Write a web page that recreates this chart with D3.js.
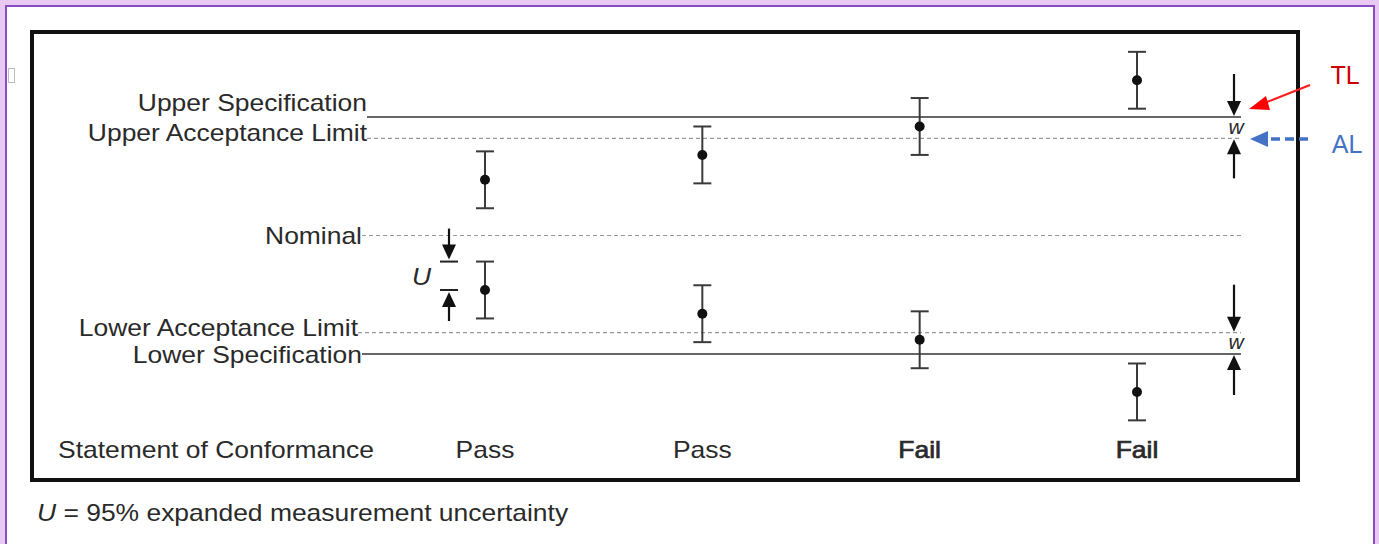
<!doctype html>
<html>
<head>
<meta charset="UTF-8">
<title>conformance</title>
<script src="https://d3js.org/d3.v7.min.js"></script>
<style>
  body { margin: 0; background: #e8c9f2; }
  text { font-family: "Liberation Sans", Arial, sans-serif; fill: #2a2a2a; }
</style>
</head>
<body>
<svg width="1379" height="544"></svg>
<script>
// measurement results, two per column (upper and lower)
var samples = ["s1", "s2", "s3", "s4"];
var upperResults = [4.7, 6.8, 9.2, 13.1];
var lowerResults = [-4.6, -6.6, -8.8, -13.2];
var uncertainty = 2.4;
var verdicts = ["Pass", "Pass", "Fail", "Fail"];

// limit lines
var limitLabels = ["Upper Specification", "Upper Acceptance Limit", "Nominal", "Lower Acceptance Limit", "Lower Specification"];
var limitValues = [10, 8.2, 0, -8.2, -10];

var W = 1379, H = 544;
var svg = d3.select("svg");
var stretch = 1.15; // source text is a bit wider than plain Arial

var x = d3.scalePoint().domain(samples).range([485, 1137]);
var y = d3.scaleLinear().domain([-10, 10]).range([354, 117]);

// page frame
svg.append("rect").attr("x", 6).attr("y", 6).attr("width", 1368).attr("height", 560)
   .attr("fill", "#fff").attr("stroke", "#8a4cc2").attr("stroke-width", 2);
svg.append("rect").attr("x", 8.5).attr("y", 68.5).attr("width", 6).attr("height", 14)
   .attr("fill", "none").attr("stroke", "#777").attr("stroke-dasharray", "1,1");
svg.append("rect").attr("x", 32).attr("y", 32).attr("width", 1266).attr("height", 448)
   .attr("fill", "none").attr("stroke", "#111").attr("stroke-width", 4);

function label(g, str, px, py, anchor) {
  return g.append("text")
    .attr("transform", "translate(" + px + "," + py + ") scale(" + stretch + ",1)")
    .attr("text-anchor", anchor || "start")
    .attr("font-size", 23)
    .text(str);
}

// limit lines + labels
var lineEnd = 1241;
var labelShift = [-6, 3, 8, 3, 9];
var labelEnd = [367, 367, 362, 358, 362];
limitValues.forEach(function (v, i) {
  var spec = limitLabels[i].indexOf("Specification") >= 0;
  svg.append("line")
    .attr("x1", labelEnd[i]).attr("x2", lineEnd)
    .attr("y1", y(v)).attr("y2", y(v))
    .attr("stroke", spec ? "#333" : "#999")
    .attr("stroke-width", spec ? 1.6 : 1.2)
    .attr("stroke-dasharray", spec ? null : "4,3");
  label(svg, limitLabels[i], labelEnd[i], y(v) + labelShift[i], "end");
});

// error bars
var pts = [];
samples.forEach(function (s, i) {
  pts.push({ s: s, v: upperResults[i] });
  pts.push({ s: s, v: lowerResults[i] });
});
var bars = svg.append("g").attr("stroke", "#3a3a3a").attr("stroke-width", 2);
pts.forEach(function (p) {
  var cx = x(p.s);
  bars.append("line").attr("x1", cx).attr("x2", cx)
      .attr("y1", y(p.v + uncertainty)).attr("y2", y(p.v - uncertainty));
  [p.v + uncertainty, p.v - uncertainty].forEach(function (e) {
    bars.append("line").attr("x1", cx - 9).attr("x2", cx + 9)
        .attr("y1", y(e)).attr("y2", y(e));
  });
  svg.append("circle").attr("cx", cx).attr("cy", y(p.v)).attr("r", 5).attr("fill", "#111");
});

// vertical arrow, head at y1
function varrow(g, ax, y0, y1, col) {
  var dir = y1 > y0 ? 1 : -1;
  g.append("line").attr("x1", ax).attr("x2", ax).attr("y1", y0).attr("y2", y1 - dir * 10)
   .attr("stroke", col).attr("stroke-width", 2.2);
  g.append("path")
   .attr("d", "M" + (ax - 7) + "," + (y1 - dir * 15) + "L" + (ax + 7) + "," + (y1 - dir * 15) + "L" + ax + "," + y1 + "Z")
   .attr("fill", col);
}

// U marker beside first lower bar
var ux = 449, uTop = y(lowerResults[0] + uncertainty), uBot = y(lowerResults[0]);
varrow(svg, ux, uTop - 33, uTop - 2, "#111");
varrow(svg, ux, uBot + 31, uBot + 2, "#111");
[uTop, uBot].forEach(function (t) {
  svg.append("line").attr("x1", ux - 9).attr("x2", ux + 9).attr("y1", t).attr("y2", t)
     .attr("stroke", "#222").attr("stroke-width", 2);
});
label(svg, "U", 431, (uTop + uBot) / 2 + 9, "end").attr("font-style", "italic");

// guard band arrows (w)
var wx = 1234;
varrow(svg, wx, y(10) - 43, y(10) - 1, "#111");
varrow(svg, wx, y(8.2) + 40, y(8.2) + 1, "#111");
varrow(svg, wx, y(-8.2) - 48, y(-8.2) - 1, "#111");
varrow(svg, wx, y(-10) + 41, y(-10) + 1, "#111");
[[y(10), y(8.2)], [y(-8.2), y(-10)]].forEach(function (p) {
  svg.append("text").attr("x", wx + 2).attr("y", (p[0] + p[1]) / 2 + 6)
     .attr("text-anchor", "middle").attr("font-size", 21).attr("font-style", "italic")
     .attr("fill", "#444").text("w");
});

// verdict row
label(svg, "Statement of Conformance", 58, 458);
verdicts.forEach(function (v, i) {
  var t = label(svg, v, x(samples[i]), 458, "middle");
  if (v === "Fail") t.attr("stroke", "#2a2a2a").attr("stroke-width", 0.7);
});

// footnote
var note = label(svg, "", 37, 521);
note.append("tspan").attr("font-style", "italic").text("U");
note.append("tspan").text(" = 95% expanded measurement uncertainty");

// TL / AL callouts
svg.append("text").attr("x", 1345).attr("y", 84).attr("text-anchor", "middle")
   .attr("font-size", 25).style("fill", "#cc0000").text("TL");
svg.append("text").attr("x", 1347).attr("y", 153).attr("text-anchor", "middle")
   .attr("font-size", 25).style("fill", "#4472c4").text("AL");
svg.append("line").attr("x1", 1310).attr("y1", 85).attr("x2", 1262).attr("y2", 104)
   .attr("stroke", "#ff1a1a").attr("stroke-width", 2);
svg.append("path").attr("d", "M1249,109 L1266,96 L1270,110 Z").attr("fill", "#ff0000");
svg.append("line").attr("x1", 1308).attr("y1", 139).attr("x2", 1266).attr("y2", 139)
   .attr("stroke", "#4472c4").attr("stroke-width", 3.5).attr("stroke-dasharray", "9,5");
svg.append("path").attr("d", "M1250,139 L1268,131 L1268,147 Z").attr("fill", "#4472c4");
</script>
</body>
</html>
